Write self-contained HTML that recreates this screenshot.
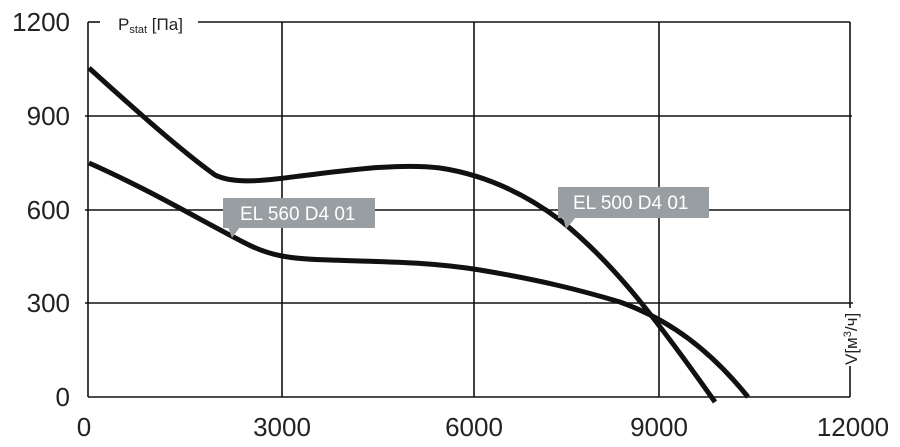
<!DOCTYPE html>
<html><head><style>body{margin:0;background:#fff}</style></head><body>
<svg width="900" height="442" xmlns="http://www.w3.org/2000/svg" font-family="Liberation Sans, sans-serif">
<g stroke="#111" stroke-width="1.6" fill="none">
<line x1="88" y1="22" x2="88" y2="397"/>
<line x1="88" y1="397" x2="850" y2="397"/>
<line x1="88" y1="22" x2="100" y2="22"/>
<line x1="198" y1="22" x2="850" y2="22"/>
<line x1="850" y1="22" x2="850" y2="308"/>
<line x1="850" y1="366" x2="850" y2="397"/>
<line x1="85" y1="116" x2="852" y2="116"/>
<line x1="85" y1="210" x2="850" y2="210"/>
<line x1="85" y1="303" x2="853" y2="303"/>
<line x1="282" y1="22" x2="282" y2="397"/>
<line x1="474" y1="22" x2="474" y2="397"/>
<line x1="659" y1="22" x2="659" y2="397"/>
</g>
<g stroke="#111" stroke-width="5" fill="none" stroke-linecap="butt">
<path d="M89,68 C130,105 180,150 215,175 C235,185 270,180 300,176 C350,170 400,163 440,168 C480,174 520,190 560,220 C610,260 650,310 715,402"/>
<path d="M89,163 C150,190 200,220 245,243 C270,256 290,259 330,260 C390,262 430,262 480,270 C540,280 580,290 620,302 C670,320 710,350 748,397"/>
</g>
<g fill="#999ea2">
<rect x="223" y="198" width="152" height="30"/>
<path d="M228,227 L240,227 L232,238 Z"/>
<rect x="558" y="187" width="151" height="31"/>
<path d="M563,217 L576,217 L566,229 Z"/>
</g>
<g fill="#fff" font-size="19">
<text x="240" y="220">EL 560 D4 01</text>
<text x="573" y="209">EL 500 D4 01</text>
</g>
<g fill="#222" font-size="26" text-anchor="end">
<text x="70" y="31">1200</text>
<text x="70" y="125">900</text>
<text x="70" y="219">600</text>
<text x="70" y="312">300</text>
<text x="70" y="406">0</text>
</g>
<g fill="#222" font-size="26" text-anchor="middle">
<text x="84" y="436">0</text>
<text x="282" y="436">3000</text>
<text x="474" y="436">6000</text>
<text x="659" y="436">9000</text>
<text x="853" y="436">12000</text>
</g>
<text x="118" y="30" font-size="17" fill="#222">P<tspan font-size="11" dy="3">stat</tspan><tspan dy="-3"> [Па]</tspan></text>
<text transform="translate(857,365) rotate(-90)" font-size="17" fill="#222">V[м<tspan font-size="11" dy="-6">3</tspan><tspan dy="6">/ч]</tspan></text>
</svg>
</body></html>
